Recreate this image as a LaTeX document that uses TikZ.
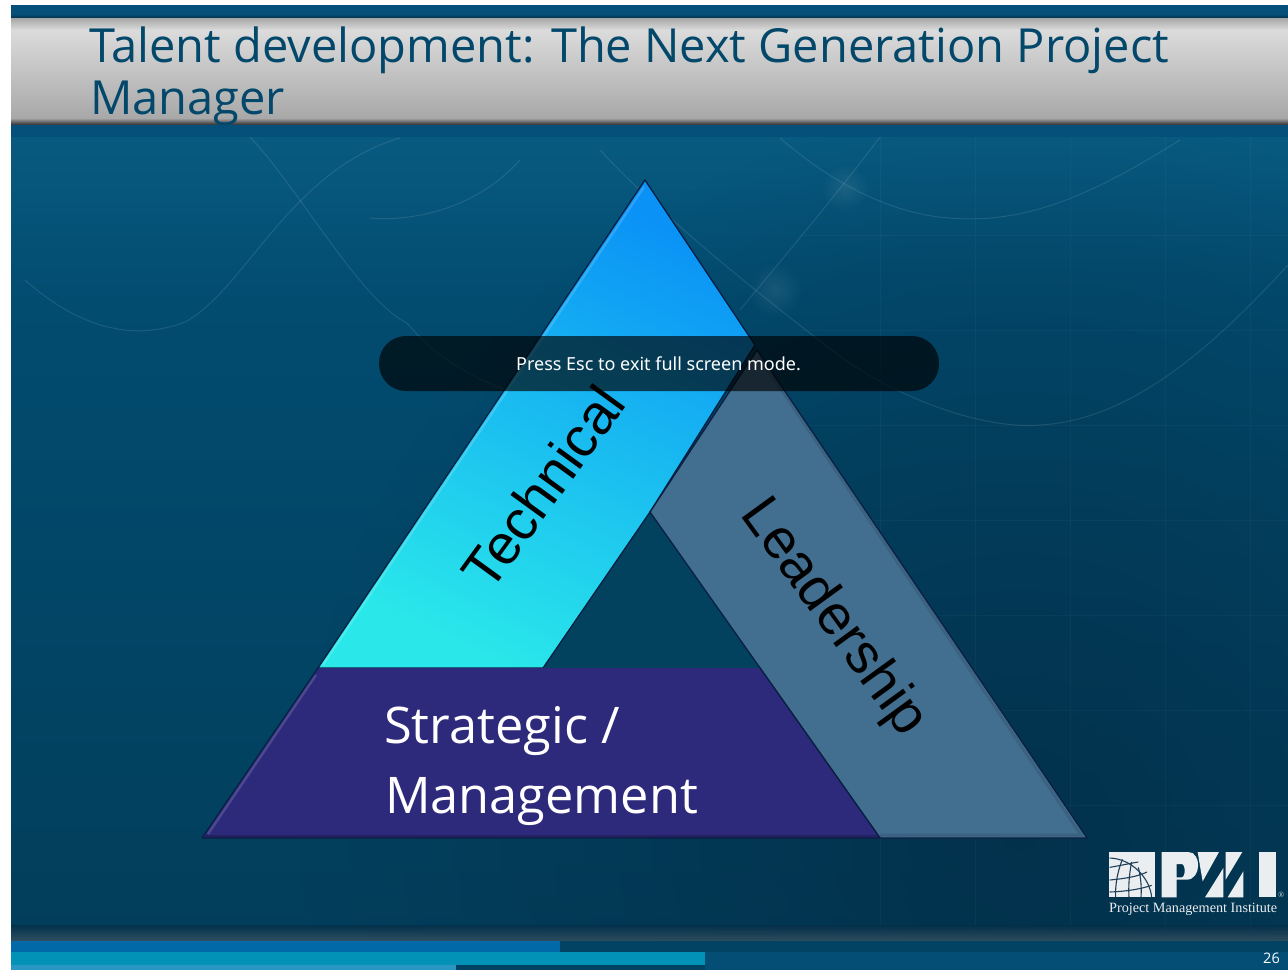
\documentclass[tikz,border=0pt]{standalone}
\usepackage{fontspec}
\setmainfont{Open Sans}
\newfontfamily\arialf{Liberation Sans}
\newfontfamily\timesf{Liberation Serif}
\newfontfamily\tahomaf{Noto Sans}
\usetikzlibrary{shadings,fadings}
\definecolor{bandblue}{HTML}{04507A}
\definecolor{titleblue}{HTML}{03486B}
\definecolor{bgtop}{HTML}{095A80}
\definecolor{bgmid}{HTML}{024C70}
\definecolor{bglow}{HTML}{023E5B}
\definecolor{bgdark}{HTML}{032F49}
\definecolor{edgedark}{HTML}{0A1F42}
\definecolor{lead}{HTML}{426E8F}
\definecolor{strat}{HTML}{2D2A7C}
\definecolor{stripa}{HTML}{0269A9}
\definecolor{stripb}{HTML}{0292B8}
\definecolor{stripc}{HTML}{2A96C2}
\definecolor{hole}{HTML}{02425F}
\definecolor{techlow}{HTML}{2AE8EA}
\definecolor{techmid}{HTML}{16B2F1}
\definecolor{techhigh}{HTML}{0A92F6}
\definecolor{globeline}{HTML}{1F3F58}
\tikzfading[name=softspot,inner color=transparent!15,outer color=transparent!100]
\tikzset{
  x=1pt,y=-1pt,
  tribox/.style={draw=edgedark,line width=1.3pt,line join=round},
  faintarc/.style={draw=white,draw opacity=0.1,line width=1pt},
  gridline/.style={draw=white,draw opacity=0.03,line width=1pt},
  banlabel/.style={rotate=#1,font=\arialf\fontsize{56}{56}\selectfont,text=black,inner sep=0pt},
  logoshape/.style={fill=white!92!bgdark,draw=none},
  glowspot/.style={fill=white,opacity=0.1,path fading=softspot},
}
\begin{document}
\begin{tikzpicture}
\useasboundingbox (0,0) rectangle (1288,970);
\fill[white] (0,0) rectangle (1288,970);
% slide background
\shade[top color=bgtop,bottom color=bgmid] (11,137) rectangle (1288,300);
\shade[top color=bgmid,bottom color=bglow] (11,300) rectangle (1288,940);
\begin{scope}
\clip (11,137) rectangle (1288,941);
\fill[bgdark,path fading=softspot] (1020,830) circle[radius=720];
\end{scope}
% grid
\foreach \gx in {880,975,1070,1165,1250}{\draw[gridline] (\gx,137) -- (\gx,930);}
\foreach \gy in {235,330,425,520,615,710,805}{\draw[gridline] (800,\gy) -- (1288,\gy);}
% faint curves
\draw[faintarc] (25,280) .. controls (70,320) and (125,345) .. (185,322) .. controls (245,290) and (290,170) .. (400,138);
\draw[faintarc] (250,137) .. controls (300,190) and (360,300) .. (407,323) .. controls (430,350) and (460,375) .. (520,395);
\draw[faintarc] (370,218) .. controls (420,222) and (480,205) .. (520,160);
\draw[faintarc] (600,150) .. controls (660,215) and (760,295) .. (833,351) .. controls (890,395) and (980,430) .. (1040,425) .. controls (1130,420) and (1210,350) .. (1288,265);
\draw[faintarc] (780,138) .. controls (840,190) and (900,215) .. (950,218) .. controls (1030,225) and (1100,190) .. (1180,140);
\draw[faintarc] (880,137) .. controls (840,190) and (790,250) .. (740,310);
\fill[glowspot] (775,290) circle[radius=28];
\fill[glowspot] (845,188) circle[radius=24];
% bottom fade
\shade[top color=bgdark,bottom color=bgdark!55!gray,opacity=0.8] (11,925) rectangle (1288,941);
% bottom strip
\fill[bandblue!90!bgdark] (11,941) rectangle (1288,970);
\fill[bgmid!70!bgdark] (560,941) rectangle (1288,952);
\fill[bgmid!70!bgdark] (456,965) rectangle (705,970);
\fill[stripa] (11,941) rectangle (560,952);
\fill[stripb] (11,952) rectangle (705,965);
\fill[stripc] (11,965) rectangle (456,970);
% top banner
\fill[bandblue] (11,5) rectangle (1288,18);
\shade[top color=bandblue,bottom color=bgdark] (11,14) rectangle (1288,18);
\shade[top color=white!30!gray,bottom color=white!72!gray] (11,18) rectangle (1288,30);
\shade[top color=white!72!gray,bottom color=white!32!gray] (11,30) rectangle (1288,118);
\shade[top color=white!32!gray,bottom color=black!65!gray] (11,118) rectangle (1288,125);
\fill[bandblue] (11,125) rectangle (1288,137);
\node[anchor=base west,inner sep=0pt,text=titleblue,font=\fontsize{47}{47}\selectfont] (t1) at (89,62) {Talent development: The Next Generation Project};
\node[anchor=base west,inner sep=0pt,text=titleblue,font=\fontsize{47}{47}\selectfont] (t2) at (90,114) {Manager};
% triangle
\fill[hole] (650,512) -- (543,668) -- (760,668) -- cycle;
\shade[bottom color=techlow,middle color=techmid,top color=techhigh,shading angle=-25] (645,180) -- (755,345) -- (650,512) -- (543,668) -- (318,668) -- cycle;
\draw[line width=2pt,draw=white,draw opacity=0.16] (644,187) -- (323,665);
\draw[tribox] (645,180) -- (755,345) -- (650,512) -- (543,668) -- (318,668) -- cycle;
\path[fill=lead] (757,350) -- (1087,838) -- (880,838) -- (650,512) -- cycle;
\draw[line width=3pt,draw=black,draw opacity=0.1] (760,358) -- (1081,835) -- (880,835);
\path[tribox] (757,350) -- (1087,838) -- (880,838) -- (650,512) -- cycle;
\path[fill=strat] (318,668) -- (760,668) -- (880,838) -- (202,838) -- cycle;
\draw[line width=2.5pt,draw=white,draw opacity=0.14] (316,675) -- (208,834);
\draw[line width=3pt,draw=black,draw opacity=0.2] (205,836) -- (878,836);
\path[tribox] (202,838) -- (318,668) (760,668) -- (880,838) -- (202,838);
\node[banlabel=54] (tech) at (543,487) {Technical};
\node[banlabel=-54] (leader) at (833,618) {Leadership};
\node[anchor=base west,inner sep=0pt,text=white,font=\fontsize{50.5}{50}\selectfont] (s1) at (384,743) {Strategic /};
\node[anchor=base west,inner sep=0pt,text=white,font=\fontsize{50.5}{50}\selectfont] (s2) at (385,813) {Management};
% esc bar
\fill[black,opacity=0.65,rounded corners=27pt] (379,336) rectangle (939,391);
\node[text=white,inner sep=0pt,font=\tahomaf\fontsize{18}{18}\selectfont] (esc) at (658.5,364) {Press Esc to exit full screen mode.};
% PMI logo: globe
\begin{scope}[shift={(1105,848)},x=0.3333pt,y=-0.3333pt]
\fill[logoshape] (12,12) rectangle (150,148);
\clip (12,12) rectangle (150,148);
\draw[globeline,line width=1.1pt] (14,30) .. controls (80,32) and (135,90) .. (140,148);
\draw[globeline,line width=1.1pt] (14,58) .. controls (50,52) and (80,45) .. (100,42);
\draw[globeline,line width=1.1pt] (14,96) .. controls (60,92) and (100,85) .. (126,72);
\draw[globeline,line width=1.1pt] (14,132) .. controls (70,130) and (110,122) .. (140,112);
\draw[globeline,line width=1.1pt] (52,34) .. controls (38,70) and (30,110) .. (32,148);
\draw[globeline,line width=1.1pt] (80,42) .. controls (72,80) and (70,120) .. (72,148);
\draw[globeline,line width=1.1pt] (100,58) .. controls (108,90) and (110,120) .. (108,148);
\end{scope}
% PMI logo: letters
\begin{scope}[shift={(1155,848)},x=0.3333pt,y=-0.3333pt]
\fill[logoshape,even odd rule] (20,12) -- (100,12) .. controls (140,12) and (140,95) .. (95,95) -- (65,95) -- (65,148) -- (20,148) -- cycle
 (65,48) -- (80,48) .. controls (92,48) and (92,88) .. (80,88) -- (65,88) -- cycle;
\fill[logoshape] (128,12) -- (192,12) -- (143,100) -- (136,60) -- cycle;
\fill[logoshape] (150,148) -- (205,60) -- (205,148) -- cycle;
\fill[logoshape] (212,12) -- (262,12) -- (212,95) -- cycle;
\fill[logoshape] (218,148) -- (265,70) -- (265,148) -- cycle;
\fill[logoshape] (312,12) -- (362,12) -- (362,148) -- (312,148) -- cycle;
\end{scope}
\node[anchor=base west,inner sep=0pt,text=white!92!bgdark,font=\timesf\fontsize{14.2}{14}\selectfont] (pmi) at (1109,912) {Project Management Institute};
\node[anchor=west,inner sep=0pt,text=white!80!bgdark,font=\timesf\fontsize{8}{8}\selectfont] (reg) at (1278,895) {®};
\node[anchor=base east,inner sep=0pt,text=white,font=\fontsize{14.5}{15}\selectfont] (num) at (1280,963) {26};
\end{tikzpicture}
\end{document}
